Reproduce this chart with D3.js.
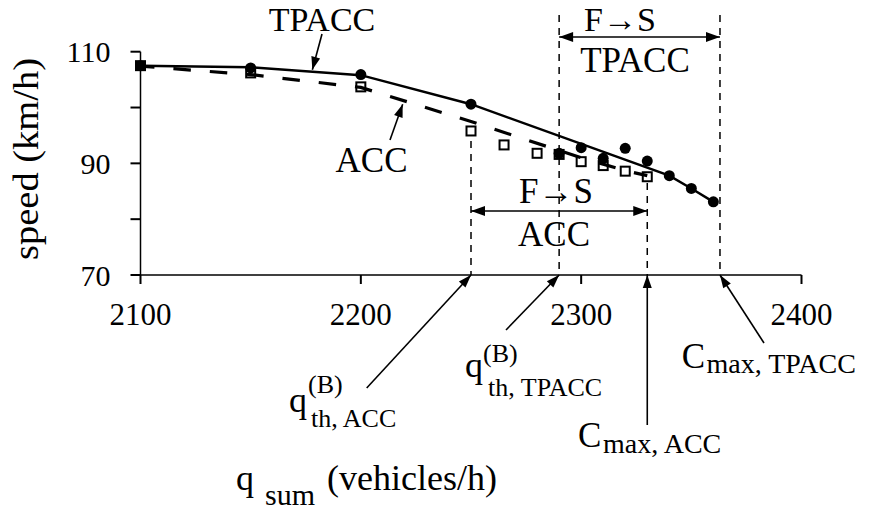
<!DOCTYPE html>
<html>
<head>
<meta charset="utf-8">
<script src="https://cdn.jsdelivr.net/npm/d3@7"></script>
<style>
  html, body { margin: 0; padding: 0; background: #fff; }
  svg { display: block; }
  text { font-family: "Liberation Serif", "Times New Roman", serif; fill: #000; }
</style>
</head>
<body>
<svg id="chart" width="869" height="511"></svg>
<script>
// ---------- data ----------
const tpaccQ     = [2100, 2150, 2200, 2250, 2290, 2300, 2310, 2320, 2330, 2340, 2350, 2360];
const tpaccSpeed = [107.5, 107.1, 105.9, 100.6, 91.8, 92.8, 90.9, 92.7, 90.4, 87.8, 85.5, 83.1];
const accQ       = [2100, 2150, 2200, 2250, 2265, 2280, 2290, 2300, 2310, 2320, 2330];
const accSpeed   = [107.5, 106.2, 103.7, 95.8, 93.3, 91.8, 91.6, 90.3, 89.6, 88.6, 87.6];
const tpaccFitQ     = [2100, 2150, 2200, 2250, 2340, 2350, 2360];
const tpaccFitSpeed = [107.5, 107.2, 105.8, 100.6, 87.8, 85.5, 83.1];
const accFitQ     = [2100, 2150, 2200, 2250, 2290, 2300, 2320, 2330];
const accFitSpeed = [107.4, 105.9, 103.6, 97.5, 92.3, 91.0, 88.7, 87.8];
const xTicks = [2100, 2200, 2300, 2400];
const yTicks = [70, 80, 90, 100, 110];
const yTickLabels = [70, 90, 110];
const qThACC = 2250, qThTPACC = 2290, cMaxACC = 2330, cMaxTPACC = 2363;

// ---------- scales ----------
const svg = d3.select("#chart");
const x = d3.scaleLinear().domain([2100, 2400]).range([140.5, 801.5]);
const y = d3.scaleLinear().domain([70, 110]).range([275, 51.7]);
const X0 = x(2100), Y0 = y(70);

// ---------- axes ----------
svg.append("line").attr("x1", X0).attr("x2", x(2400)).attr("y1", Y0).attr("y2", Y0)
  .attr("stroke", "#000").attr("stroke-width", 1.5);
svg.append("line").attr("x1", X0).attr("x2", X0).attr("y1", Y0).attr("y2", y(110))
  .attr("stroke", "#000").attr("stroke-width", 1.5);
svg.selectAll(".xt").data(xTicks).enter().append("line")
  .attr("x1", d => x(d)).attr("x2", d => x(d)).attr("y1", Y0).attr("y2", Y0 + 9)
  .attr("stroke", "#000").attr("stroke-width", 2);
svg.selectAll(".yt").data(yTicks).enter().append("line")
  .attr("x1", X0 - 10).attr("x2", X0).attr("y1", d => y(d)).attr("y2", d => y(d))
  .attr("stroke", "#000").attr("stroke-width", 2);
svg.selectAll(".xl").data(xTicks).enter().append("text")
  .attr("x", d => x(d)).attr("y", Y0 + 50).attr("text-anchor", "middle")
  .attr("font-size", 31).text(d => d);
svg.selectAll(".yl").data(yTickLabels).enter().append("text")
  .attr("x", X0 - 30).attr("y", d => y(d) + 10.5).attr("text-anchor", "end")
  .attr("font-size", 30).text(d => d);

// y title
svg.append("text").attr("transform", "translate(38,159) rotate(-90)")
  .attr("text-anchor", "middle").attr("font-size", 36)
  .attr("textLength", 202).attr("lengthAdjust", "spacingAndGlyphs")
  .text("speed (km/h)");
// x title
svg.append("text").attr("x", 236).attr("y", 490).attr("font-size", 36).text("q");
svg.append("text").attr("x", 265).attr("y", 505).attr("font-size", 30).text("sum");
svg.append("text").attr("x", 327).attr("y", 490).attr("font-size", 36).text("(vehicles/h)");

// ---------- vertical dashed lines ----------
const vlines = [
  { q: qThACC, top: 141 },
  { q: qThTPACC, top: 15 },
  { q: cMaxACC, top: 183 },
  { q: cMaxTPACC, top: 15 }
];
svg.selectAll(".vl").data(vlines).enter().append("line")
  .attr("x1", d => x(d.q)).attr("x2", d => x(d.q)).attr("y1", d => d.top).attr("y2", Y0)
  .attr("stroke", "#000").attr("stroke-width", 1.5).attr("stroke-dasharray", "7,6");

// ---------- lines ----------
const line = d3.line().x(d => x(d[0])).y(d => y(d[1]));
svg.append("path").datum(d3.zip(accFitQ, accFitSpeed)).attr("d", line)
  .attr("fill", "none").attr("stroke", "#000").attr("stroke-width", 3.2)
  .attr("stroke-dasharray", "17.5,19").attr("stroke-dashoffset", 3.5);
svg.append("path").datum(d3.zip(tpaccFitQ, tpaccFitSpeed)).attr("d", line)
  .attr("fill", "none").attr("stroke", "#000").attr("stroke-width", 2.5);

// ---------- markers ----------
svg.selectAll(".c").data(d3.zip(tpaccQ, tpaccSpeed)).enter().append("circle")
  .attr("cx", d => x(d[0])).attr("cy", d => y(d[1])).attr("r", 5.5).attr("fill", "#000");
svg.selectAll(".s").data(d3.zip(accQ, accSpeed)).enter().append("rect")
  .attr("x", d => x(d[0]) - 4.5).attr("y", d => y(d[1]) - 4.5)
  .attr("width", 9).attr("height", 9)
  .attr("fill", "none").attr("stroke", "#000").attr("stroke-width", 2);

// ---------- annotations ----------
function arrowHead(g, x1, y1, x2, y2, L, hw) {
  const a = Math.atan2(y2 - y1, x2 - x1);
  const bx = x2 - L * Math.cos(a), by = y2 - L * Math.sin(a);
  const px = -Math.sin(a) * hw, py = Math.cos(a) * hw;
  g.append("path").attr("d", `M${x2},${y2}L${bx + px},${by + py}L${bx - px},${by - py}Z`).attr("fill", "#000");
}
function arrow(x1, y1, x2, y2) {
  svg.append("line").attr("x1", x1).attr("y1", y1).attr("x2", x2).attr("y2", y2)
    .attr("stroke", "#000").attr("stroke-width", 1.6);
  arrowHead(svg, x1, y1, x2, y2, 13, 4.5);
}
function dblArrow(xa, xb, yy) {
  svg.append("line").attr("x1", xa).attr("y1", yy).attr("x2", xb).attr("y2", yy)
    .attr("stroke", "#000").attr("stroke-width", 1.5);
  arrowHead(svg, xb, yy, xa, yy, 14, 5);
  arrowHead(svg, xa, yy, xb, yy, 14, 5);
}

// series labels
svg.append("text").attr("x", 322).attr("y", 30.5).attr("text-anchor", "middle").attr("font-size", 34).text("TPACC");
arrow(322, 34, x(2178), y(106.4) - 2);
svg.append("text").attr("x", 371.5).attr("y", 171.5).attr("text-anchor", "middle").attr("font-size", 35).text("ACC");
arrow(390, 140, x(2219), y(101.3) + 4);

// F->S ranges
svg.append("text").attr("x", 620).attr("y", 30.5).attr("text-anchor", "middle").attr("font-size", 34).text("F\u2192S");
dblArrow(x(qThTPACC), x(cMaxTPACC), 37);
svg.append("text").attr("x", 635).attr("y", 71.5).attr("text-anchor", "middle").attr("font-size", 35).text("TPACC");
svg.append("text").attr("x", 556).attr("y", 203).attr("text-anchor", "middle").attr("font-size", 35).text("F\u2192S");
dblArrow(x(qThACC), x(cMaxACC), 211);
svg.append("text").attr("x", 554).attr("y", 246).attr("text-anchor", "middle").attr("font-size", 35).text("ACC");

// threshold labels
arrow(366.7, 388, x(qThACC), Y0);
svg.append("text").attr("x", 289).attr("y", 412).attr("font-size", 36).text("q");
svg.append("text").attr("x", 308).attr("y", 393).attr("font-size", 26).text("(B)");
svg.append("text").attr("x", 311).attr("y", 427).attr("font-size", 26).text("th, ACC");

arrow(506, 330, x(qThTPACC), Y0);
svg.append("text").attr("x", 465).attr("y", 377).attr("font-size", 36).text("q");
svg.append("text").attr("x", 483).attr("y", 362).attr("font-size", 26).text("(B)");
svg.append("text").attr("x", 488).attr("y", 396).attr("font-size", 26).text("th, TPACC");

arrow(x(cMaxACC), 425, x(cMaxACC), Y0);
svg.append("text").attr("x", 578).attr("y", 447).attr("font-size", 35).text("C");
svg.append("text").attr("x", 603).attr("y", 453).attr("font-size", 28).text("max, ACC");

arrow(764, 343, x(cMaxTPACC), Y0);
svg.append("text").attr("x", 681.7).attr("y", 368).attr("font-size", 35).text("C");
svg.append("text").attr("x", 706.5).attr("y", 373.3).attr("font-size", 28).text("max, TPACC");
</script>
</body>
</html>
